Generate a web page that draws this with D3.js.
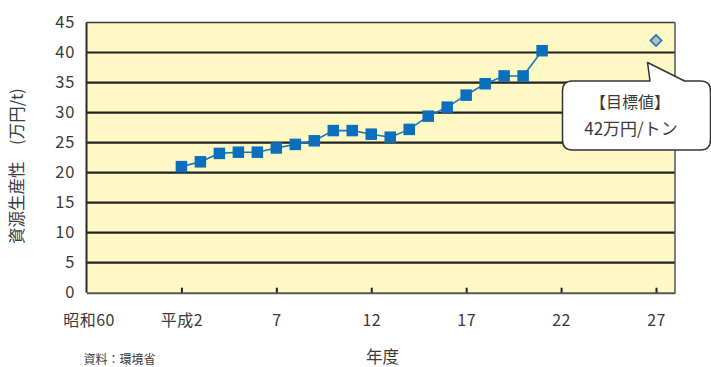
<!DOCTYPE html>
<html>
<head>
<meta charset="utf-8">
<script src="https://cdn.jsdelivr.net/npm/d3@7/dist/d3.min.js"></script>
<style>
  html, body { margin: 0; padding: 0; background: #ffffff; }
  svg { display: block; }
  text { font-family: "Noto Sans CJK JP", "Noto Sans", sans-serif; fill: #3a3a3a; }
</style>
</head>
<body>
<svg id="chart" width="711" height="367"></svg>
<script>
// Resource productivity by fiscal year (万円/t)
const years = [1990, 1991, 1992, 1993, 1994, 1995, 1996, 1997, 1998, 1999,
               2000, 2001, 2002, 2003, 2004, 2005, 2006, 2007, 2008, 2009];
const productivity = [21.0, 21.8, 23.2, 23.4, 23.4, 24.1, 24.7, 25.3, 27.0, 27.0,
                      26.4, 25.9, 27.2, 29.4, 30.9, 32.9, 34.8, 36.1, 36.1, 40.3];

// Target for 平成27
const targetYear = 2015;
const targetValue = 42;
const targetLines = ["【目標値】", "42万円/トン"];

// Axis ticks
const xTickYears = [1985, 1990, 1995, 2000, 2005, 2010, 2015];
const xTickLabels = ["昭和60", "平成2", "7", "12", "17", "22", "27"];
const yTicks = [0, 5, 10, 15, 20, 25, 30, 35, 40, 45];

const yTitle = "資源生産性　(万円/t)";
const xTitle = "年度";
const sourceNote = "資料：環境省";

const svg = d3.select("#chart");
const plot = { left: 86.5, right: 675, top: 22.5, bottom: 292.7 };

const x = d3.scaleLinear().domain([1985, 2016]).range([plot.left, plot.right]);
const y = d3.scaleLinear().domain([0, 45]).range([plot.bottom, plot.top]);

// Plot background
svg.append("rect")
  .attr("x", plot.left).attr("y", plot.top)
  .attr("width", plot.right - plot.left).attr("height", plot.bottom - plot.top)
  .attr("fill", "#fef8c4");

// Horizontal gridlines
svg.append("g")
  .selectAll("line")
  .data(yTicks.filter(d => d > 0 && d < 45))
  .join("line")
  .attr("x1", plot.left).attr("x2", plot.right)
  .attr("y1", d => y(d)).attr("y2", d => y(d))
  .attr("stroke", "#222").attr("stroke-width", 2.2);

// Frame
svg.append("line")
  .attr("x1", plot.left).attr("x2", plot.right)
  .attr("y1", plot.top).attr("y2", plot.top)
  .attr("stroke", "#3a3a3a").attr("stroke-width", 1.5);
svg.append("line")
  .attr("x1", plot.left).attr("x2", plot.left)
  .attr("y1", plot.top).attr("y2", plot.bottom)
  .attr("stroke", "#2a2a2a").attr("stroke-width", 2);
svg.append("line")
  .attr("x1", plot.right).attr("x2", plot.right)
  .attr("y1", plot.top).attr("y2", plot.bottom)
  .attr("stroke", "#555").attr("stroke-width", 1.5);

// X axis with inward ticks
const xAxis = d3.axisBottom(x)
  .tickValues(xTickYears)
  .tickSizeInner(-5)
  .tickSizeOuter(0)
  .tickFormat((d, i) => xTickLabels[i]);
const gx = svg.append("g")
  .attr("transform", `translate(0,${plot.bottom})`)
  .call(xAxis);
gx.select(".domain").attr("stroke", "#555").attr("stroke-width", 2);
gx.selectAll(".tick line").attr("stroke", "#222").attr("stroke-width", 2);
gx.selectAll(".tick").filter(d => d === 1985).select("line").remove();
gx.selectAll(".tick text")
  .attr("y", 33)
  .attr("dy", 0)
  .style("font-size", "16px")
  .style("letter-spacing", "0.5px")
  .attr("fill", "#3a3a3a");
gx.selectAll(".tick").filter(d => d === 1985).select("text").attr("dx", 2);

// Y axis labels
const yAxis = d3.axisLeft(y).tickValues(yTicks).tickSize(0).tickPadding(11);
const gy = svg.append("g")
  .attr("transform", `translate(${plot.left},0)`)
  .call(yAxis);
gy.select(".domain").remove();
gy.selectAll(".tick text")
  .style("font-size", "16.5px")
  .style("letter-spacing", "1px")
  .attr("fill", "#3a3a3a");

// Series line and square markers
const line = d3.line().x((d, i) => x(years[i])).y(d => y(d));
svg.append("path")
  .datum(productivity)
  .attr("d", line)
  .attr("fill", "none")
  .attr("stroke", "#1576c2")
  .attr("stroke-width", 1.6);

const sq = 11.5;
svg.append("g")
  .selectAll("rect")
  .data(productivity)
  .join("rect")
  .attr("x", (d, i) => x(years[i]) - sq / 2)
  .attr("y", d => y(d) - sq / 2)
  .attr("width", sq).attr("height", sq)
  .attr("fill", "#0b6fbd");

// Target marker (diamond)
svg.append("path")
  .attr("d", d3.symbol().type(d3.symbolDiamond2).size(80)())
  .attr("transform", `translate(${x(targetYear)},${y(targetValue)})`)
  .attr("fill", "#b9bcbf")
  .attr("stroke", "#1a78c8")
  .attr("stroke-width", 1.7);

// Callout balloon
const tipX = x(targetYear) - 8.5, tipY = y(targetValue) + 22;
const bx0 = 562.5, by0 = 81, bx1 = 710.5, by1 = 150, r = 10;
const balloon = d3.path();
balloon.moveTo(bx0 + r, by0);
balloon.lineTo(tipX + 2.5, by0);
balloon.lineTo(tipX, tipY);
balloon.lineTo(tipX + 37, by0);
balloon.lineTo(bx1 - r, by0);
balloon.quadraticCurveTo(bx1, by0, bx1, by0 + r);
balloon.lineTo(bx1, by1 - r);
balloon.quadraticCurveTo(bx1, by1, bx1 - r, by1);
balloon.lineTo(bx0 + r, by1);
balloon.quadraticCurveTo(bx0, by1, bx0, by1 - r);
balloon.lineTo(bx0, by0 + r);
balloon.quadraticCurveTo(bx0, by0, bx0 + r, by0);
balloon.closePath();
svg.append("path")
  .attr("d", balloon.toString())
  .attr("fill", "#ffffff")
  .attr("stroke", "#333")
  .attr("stroke-width", 1.5)
  .attr("stroke-linejoin", "round");

svg.append("g")
  .selectAll("text")
  .data(targetLines)
  .join("text")
  .attr("x", (d, i) => i === 0 ? 630 : 631)
  .attr("y", (d, i) => i === 0 ? 108 : 135)
  .attr("text-anchor", "middle")
  .style("font-size", (d, i) => i === 0 ? "16px" : "17px")
  .text(d => d);

// Axis titles and source
svg.append("text")
  .attr("transform", `translate(23,166) rotate(-90)`)
  .attr("text-anchor", "middle")
  .style("font-size", "16.5px")
  .text(yTitle);

svg.append("text")
  .attr("x", 382.5).attr("y", 362.5)
  .attr("text-anchor", "middle")
  .style("font-size", "16.5px")
  .text(xTitle);

svg.append("text")
  .attr("x", 83.5).attr("y", 363.5)
  .style("font-size", "12px")
  .text(sourceNote);
</script>
</body>
</html>
